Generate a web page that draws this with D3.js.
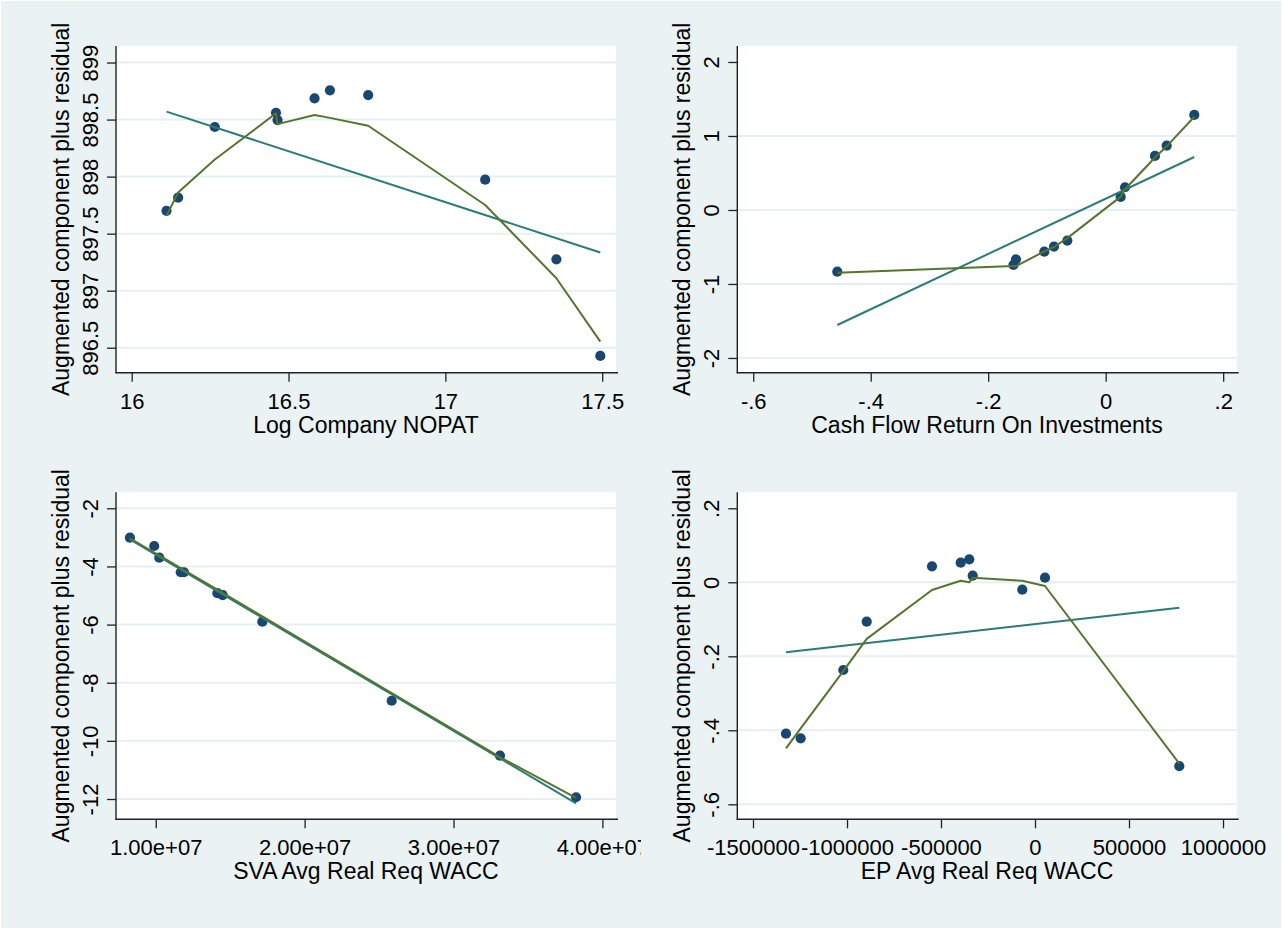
<!DOCTYPE html>
<html>
<head>
<meta charset="utf-8">
<script src="https://cdn.jsdelivr.net/npm/d3@7"></script>
<style>
  html, body { margin: 0; padding: 0; background: #ffffff; }
  svg { display: block; }
  text { font-family: "Liberation Sans", Arial, Helvetica, sans-serif; fill: #000; }
</style>
</head>
<body>
<svg id="chart" width="1282" height="929"></svg>
<script>
// ---- Log Company NOPAT ----
const nopatX      = [16.111, 16.148, 16.265, 16.460, 16.465, 16.583, 16.632, 16.754, 17.127, 17.354, 17.494];
const nopatY      = [897.70, 897.815, 898.435, 898.56, 898.496, 898.686, 898.756, 898.715, 897.973, 897.275, 896.428];
const nopatLowess = [897.657, 897.86, 898.15, 898.555, 898.46, 898.54, 898.515, 898.446, 897.751, 897.109, 896.553];
const nopatFit    = [898.57, 897.335];
const nopatXTicks = [16, 16.5, 17, 17.5];
const nopatXLabels = ["16", "16.5", "17", "17.5"];
const nopatYTicks = [896.5, 897, 897.5, 898, 898.5, 899];
const nopatYLabels = ["896.5", "897", "897.5", "898", "898.5", "899"];

// ---- Cash Flow Return On Investments ----
const cfroiX      = [-0.4569, -0.157, -0.1527, -0.1045, -0.088, -0.0653, 0.0255, 0.0329, 0.0839, 0.1038, 0.1508];
const cfroiY      = [-0.834, -0.743, -0.667, -0.563, -0.495, -0.414, 0.176, 0.307, 0.730, 0.869, 1.284];
const cfroiLowess = [-0.847, -0.757, -0.76, -0.56, -0.50, -0.38, 0.18, 0.28, 0.71, 0.86, 1.26];
const cfroiFit    = [-1.554, 0.716];
const cfroiXTicks = [-0.6, -0.4, -0.2, 0, 0.2];
const cfroiXLabels = ["-.6", "-.4", "-.2", "0", ".2"];
const cfroiYTicks = [-2, -1, 0, 1, 2];
const cfroiYLabels = ["-2", "-1", "0", "1", "2"];

// ---- SVA Avg Real Req WACC ----
const svaX      = [8.27e6, 9.9e6, 1.024e7, 1.168e7, 1.19e7, 1.414e7, 1.45e7, 1.716e7, 2.585e7, 3.312e7, 3.823e7];
const svaY      = [-3.011, -3.297, -3.70, -4.20, -4.20, -4.92, -4.99, -5.90, -8.62, -10.51, -11.94];
const svaLowess = [-3.03, -3.52, -3.62, -4.06, -4.13, -4.80, -4.91, -5.72, -8.36, -10.56, -11.96];
const svaFit    = [-3.07, -12.15];
const svaXTicks = [1e7, 2e7, 3e7, 4e7];
const svaXLabels = ["1.00e+07", "2.00e+07", "3.00e+07", "4.00e+07"];
const svaYTicks = [-12, -10, -8, -6, -4, -2];
const svaYLabels = ["-12", "-10", "-8", "-6", "-4", "-2"];

// ---- EP Avg Real Req WACC ----
const epX      = [-1324500, -1246300, -1019700, -895200, -547900, -395200, -349500, -331400, -67600, 53200, 767600];
const epY      = [-0.409, -0.4216, -0.237, -0.1065, 0.0432, 0.053, 0.062, 0.018, -0.020, 0.0124, -0.497];
const epLowess = [-0.449, -0.395, -0.24, -0.153, -0.021, 0.004, 0.0, 0.012, 0.004, -0.010, -0.49];
const epFit    = [-0.189, -0.0686];
const epXTicks = [-1500000, -1000000, -500000, 0, 500000, 1000000];
const epXLabels = ["-1500000", "-1000000", "-500000", "0", "500000", "1000000"];
const epYTicks = [-0.6, -0.4, -0.2, 0, 0.2];
const epYLabels = ["-.6", "-.4", "-.2", "0", ".2"];

const yTitle = "Augmented component plus residual";

const COLORS = {
  bg: "#eaf2f3",
  grid: "#e6eff1",
  point: "#1a476f",
  fit: "#2a7c78",
  lowess: "#55752f",
  axis: "#222"
};

// Panel layout: the cell each graph lives in, its plot box and axis extents
const panels = [
  { cell: [0, 0, 641, 464], box: [116, 46, 616, 372.7],
    xDomain: [15.95, 17.544], yDomain: [896.281, 899.145], topGrid: true,
    x: nopatX, y: nopatY, low: nopatLowess, fit: nopatFit,
    xTicks: nopatXTicks, xLabels: nopatXLabels, yTicks: nopatYTicks, yLabels: nopatYLabels,
    xTitle: "Log Company NOPAT" },
  { cell: [641, 0, 641, 464], box: [737.3, 46, 1236.7, 372.7],
    xDomain: [-0.6271, 0.2230], yDomain: [-2.199, 2.216], topGrid: false,
    x: cfroiX, y: cfroiY, low: cfroiLowess, fit: cfroiFit,
    xTicks: cfroiXTicks, xLabels: cfroiXLabels, yTicks: cfroiYTicks, yLabels: cfroiYLabels,
    xTitle: "Cash Flow Return On Investments" },
  { cell: [0, 464, 641, 465], box: [116, 492.3, 616, 819.3],
    xDomain: [7.334e6, 4.0913e7], yDomain: [-12.698, -1.4496], topGrid: true,
    x: svaX, y: svaY, low: svaLowess, fit: svaFit,
    xTicks: svaXTicks, xLabels: svaXLabels, yTicks: svaYTicks, yLabels: svaYLabels,
    xTitle: "SVA Avg Real Req WACC" },
  { cell: [641, 464, 641, 465], box: [737.3, 492.3, 1236.7, 819.3],
    xDomain: [-1583500, 1072900], yDomain: [-0.6405, 0.2432], topGrid: false,
    x: epX, y: epY, low: epLowess, fit: epFit,
    xTicks: epXTicks, xLabels: epXLabels, yTicks: epYTicks, yLabels: epYLabels,
    xTitle: "EP Avg Real Req WACC" }
];

const svg = d3.select("#chart");
svg.append("rect").attr("width", 1282).attr("height", 929).attr("fill", "#ffffff");
svg.append("rect").attr("x", 1).attr("y", 1).attr("width", 1280).attr("height", 927).attr("fill", COLORS.bg);

const defs = svg.append("defs");

panels.forEach((p, i) => {
  const [cx, cy, cw, ch] = p.cell;
  const [x0, y0, x1, y1] = p.box;

  defs.append("clipPath").attr("id", "cell" + i)
    .append("rect").attr("x", cx).attr("y", cy).attr("width", cw).attr("height", ch);

  const g = svg.append("g").attr("clip-path", `url(#cell${i})`);

  const xs = d3.scaleLinear().domain(p.xDomain).range([x0, x1]);
  const ys = d3.scaleLinear().domain(p.yDomain).range([y1, y0]);

  // plot region
  g.append("rect").attr("x", x0).attr("y", y0).attr("width", x1 - x0).attr("height", y1 - y0)
    .attr("fill", "#ffffff");

  // horizontal grid lines
  const gridTicks = p.topGrid ? p.yTicks : p.yTicks.slice(0, -1);
  g.append("g").selectAll("line").data(gridTicks).join("line")
    .attr("x1", x0).attr("x2", x1)
    .attr("y1", d => ys(d)).attr("y2", d => ys(d))
    .attr("stroke", COLORS.grid).attr("stroke-width", 2);

  // points
  const pts = p.x.map((v, k) => [v, p.y[k]]);
  g.append("g").selectAll("circle").data(pts).join("circle")
    .attr("cx", d => xs(d[0])).attr("cy", d => ys(d[1])).attr("r", 5.1)
    .attr("fill", COLORS.point);

  // linear fit
  const xMin = d3.min(p.x), xMax = d3.max(p.x);
  const line = d3.line().x(d => xs(d[0])).y(d => ys(d[1]));
  g.append("path").datum([[xMin, p.fit[0]], [xMax, p.fit[1]]])
    .attr("d", line).attr("fill", "none")
    .attr("stroke", COLORS.fit).attr("stroke-width", 2);

  // lowess smooth
  const lowPts = p.x.map((v, k) => [v, p.low[k]]);
  g.append("path").datum(lowPts)
    .attr("d", line).attr("fill", "none")
    .attr("stroke", COLORS.lowess).attr("stroke-width", 2).attr("stroke-linejoin", "round");

  // x axis
  const xAxis = d3.axisBottom(xs).tickValues(p.xTicks)
    .tickFormat((d, k) => p.xLabels[k]).tickSize(9).tickSizeOuter(0).tickPadding(6);
  const gx = g.append("g").attr("transform", `translate(0,${y1})`).call(xAxis);
  gx.select(".domain").remove();
  gx.selectAll(".tick line").attr("stroke", COLORS.axis).attr("stroke-width", 1.3);
  gx.selectAll(".tick text").attr("font-size", 22).attr("dy", 0).attr("y", 36)
    .attr("font-family", "'Liberation Sans', Arial, sans-serif").attr("fill", "#000");
  g.append("line").attr("x1", x0 - 0.6).attr("x2", x1 + 2).attr("y1", y1).attr("y2", y1)
    .attr("stroke", COLORS.axis).attr("stroke-width", 1.4);

  // y axis
  const yAxis = d3.axisLeft(ys).tickValues(p.yTicks)
    .tickFormat((d, k) => p.yLabels[k]).tickSize(9).tickSizeOuter(0);
  const gy = g.append("g").attr("transform", `translate(${x0},0)`).call(yAxis);
  gy.select(".domain").remove();
  gy.selectAll(".tick line").attr("stroke", COLORS.axis).attr("stroke-width", 1.3);
  gy.selectAll(".tick text").attr("font-size", 22)
    .attr("x", 0).attr("dy", 0).attr("text-anchor", "middle")
    .attr("transform", "translate(-18,0) rotate(-90)")
    .attr("font-family", "'Liberation Sans', Arial, sans-serif").attr("fill", "#000");
  g.append("line").attr("x1", x0).attr("x2", x0).attr("y1", y0).attr("y2", y1 + 0.6)
    .attr("stroke", COLORS.axis).attr("stroke-width", 1.4);

  // axis titles
  g.append("text").attr("x", (x0 + x1) / 2).attr("y", y1 + 60)
    .attr("text-anchor", "middle").attr("font-size", 23).text(p.xTitle);
  g.append("text")
    .attr("transform", `translate(${x0 - 47},${(y0 + y1) / 2}) rotate(-90)`)
    .attr("text-anchor", "middle").attr("font-size", 23).text(yTitle);
});
</script>
</body>
</html>
